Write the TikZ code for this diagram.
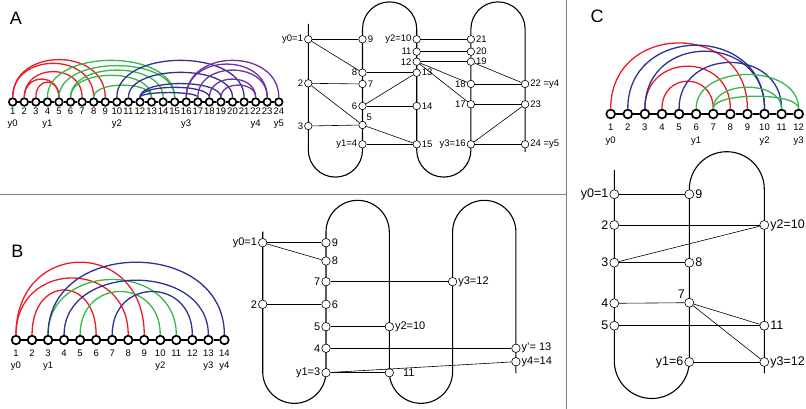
\documentclass[tikz,border=0pt]{standalone}
\usepackage{fontspec}
\setmainfont{Liberation Sans}
\usetikzlibrary{positioning}
\definecolor{arcred}{RGB}{237,28,36}
\definecolor{arcgreen}{RGB}{57,181,74}
\definecolor{arcblue}{RGB}{46,49,146}
\definecolor{arcpurple}{RGB}{112,48,160}
\definecolor{sepgray}{RGB}{128,128,128}

\begin{document}
\begin{tikzpicture}[x=1pt, y=1pt,
  bead/.style={circle, draw, fill=white, inner sep=0pt, line width=1.7pt, minimum size=#1},
  chain/.style={line width=1.8pt},
  arc/.style={line width=1.3pt},
  dot/.style={circle, draw, fill=white, inner sep=0pt, line width=0.6pt},
  serp/.style={line width=1.1pt},
  chord/.style={line width=0.6pt},
  num/.style={inner sep=0pt, font=\fontsize{9.5}{9.5}\selectfont},
  lbl/.style={inner sep=1pt},
  letter/.style={inner sep=0pt, font=\fontsize{18}{18}\selectfont},
  sep/.style={sepgray, line width=1pt}]
\useasboundingbox (0,0) rectangle (806,409);

% separators
\draw[sep] (0,214) -- (566,214);
\draw[sep] (566,0) -- (566,409);

\node[letter] (LA) at (16,391) {A};
\node[letter] (LB) at (17.5,158) {B};
\node[letter] (LC) at (597,393) {C};

% ---------- A : bead string
\foreach \i in {1,...,24} {
  \node[bead=7.6pt] (A\i) at ({12.7+(\i-1)*11.57},307) {};
  \node[num] (nA\i) at ({12.7+(\i-1)*11.57},298) {\i};
}
\foreach \i [evaluate=\i as \j using int(\i+1)] in {1,...,23}
  \draw[chain] (A\i) -- (A\j);
\foreach \u/\v/\c in {1/9/55, 1/8/50, 2/7/39, 2/5/29, 3/5/25}
  \draw[arc, arcred] (A\u) .. controls +(0,\c) and +(0,\c) .. (A\v);
\foreach \u/\v/\c in {4/15/54, 5/15/47, 6/14/41, 6/13/34, 8/13/21}
  \draw[arc, arcgreen] (A\u) .. controls +(0,\c) and +(0,\c) .. (A\v);
\foreach \u/\v/\c in {10/21/54, 11/20/38, 12/19/23, 12/18/18, 12/17/11}
  \draw[arc, arcblue] (A\u) .. controls +(0,\c) and +(0,\c) .. (A\v);
\foreach \u/\v/\c in {16/24/54, 16/23/49, 17/23/41, 18/22/29, 19/22/21}
  \draw[arc, arcpurple] (A\u) .. controls +(0,\c) and +(0,\c) .. (A\v);
\node[num, below=5pt of nA1] (yA0) {y0};
\node[num, below=5pt of nA4] (yA1) {y1};
\node[num, below=5pt of nA10] (yA2) {y2};
\node[num, below=5pt of nA16] (yA3) {y3};
\node[num, below=5pt of nA22] (yA4) {y4};
\node[num, below=5pt of nA24] (yA5) {y5};

% ---------- A : serpentine
\begin{scope}[dot/.append style={minimum size=7.5pt},
              lbl/.append style={font=\fontsize{9.5}{9.5}\selectfont}]
\draw[serp] (308.3,385) -- (308.3,259) arc[start angle=180, end angle=360, radius=27.1]
  -- (362.5,380) arc[start angle=180, end angle=0, radius=27.1]
  -- (416.7,259) arc[start angle=180, end angle=360, radius=27.1]
  -- (470.9,380) arc[start angle=180, end angle=0, radius=27.1]
  -- (525.1,257);
\node[dot, label={[lbl]left:y0=1}] (a1) at (308.3,369.7) {};
\node[dot, label={[lbl]left:2}] (a2) at (308.3,325.7) {};
\node[dot, label={[lbl]left:3}] (a3) at (308.3,283) {};
\node[dot, label={[lbl]left:y1=4}] (a4) at (362.5,264.7) {};
\node[dot, label={[lbl]above right:5}] (a5) at (362.5,284) {};
\node[dot, label={[lbl]left:6}] (a6) at (362.5,303) {};
\node[dot, label={[lbl]right:7}] (a7) at (362.5,325) {};
\node[dot, label={[lbl]left:8}] (a8) at (362.5,336.3) {};
\node[dot, label={[lbl]right:9}] (a9) at (362.5,369.7) {};
\node[dot, label={[lbl]left:y2=10}] (a10) at (416.7,369.7) {};
\node[dot, label={[lbl]left:11}] (a11) at (416.7,357.3) {};
\node[dot, label={[lbl]left:12}] (a12) at (416.7,347.3) {};
\node[dot, label={[lbl]right:13}] (a13) at (416.7,336.3) {};
\node[dot, label={[lbl]right:14}] (a14) at (416.7,303) {};
\node[dot, label={[lbl]right:15}] (a15) at (416.7,264.7) {};
\node[dot, label={[lbl]left:y3=16}] (a16) at (470.9,264.7) {};
\node[dot, label={[lbl]left:17}] (a17) at (470.9,304.7) {};
\node[dot, label={[lbl]left:18}] (a18) at (470.9,325) {};
\node[dot, label={[lbl]right:19}] (a19) at (470.9,347.3) {};
\node[dot, label={[lbl]right:20}] (a20) at (470.9,357.3) {};
\node[dot, label={[lbl]right:21}] (a21) at (470.9,369.7) {};
\node[dot, label={[lbl]right:22 =y4}] (a22) at (525.1,325) {};
\node[dot, label={[lbl]right:23}] (a23) at (525.1,304.7) {};
\node[dot, label={[lbl]right:24 =y5}] (a24) at (525.1,264.7) {};
\foreach \u/\v in {1/9, 1/8, 2/7, 2/5, 3/5, 5/15, 4/15, 8/13, 6/13, 6/14,
                   10/21, 11/20, 12/19, 12/18, 12/17, 19/22, 18/22, 17/23, 16/23, 16/24}
  \draw[chord] (a\u) -- (a\v);
\end{scope}

% ---------- B : bead string
\foreach \i in {1,...,14} {
  \node[bead=8.6pt] (B\i) at ({16+(\i-1)*16.03},69) {};
  \node[num] (nB\i) at ({16+(\i-1)*16.03},55.7) {\i};
}
\foreach \i [evaluate=\i as \j using int(\i+1)] in {1,...,13}
  \draw[chain] (B\i) -- (B\j);
\foreach \u/\v/\c in {1/9/102, 1/8/81, 2/6/65}
  \draw[arc, arcred] (B\u) .. controls +(0,\c) and +(0,\c) .. (B\v);
\foreach \u/\v/\c in {3/11/79, 5/10/63}
  \draw[arc, arcgreen] (B\u) .. controls +(0,\c) and +(0,\c) .. (B\v);
\foreach \u/\v/\c in {3/14/102, 4/13/78, 7/12/63}
  \draw[arc, arcblue] (B\u) .. controls +(0,\c) and +(0,\c) .. (B\v);
\node[num, below=5pt of nB1] (yB0) {y0};
\node[num, below=5pt of nB3] (yB1) {y1};
\node[num, below=5pt of nB10] (yB2) {y2};
\node[num, below=5pt of nB13] (yB3) {y3};
\node[num, below=5pt of nB14] (yB4) {y4};

% ---------- B : serpentine
\begin{scope}[dot/.append style={minimum size=8.5pt},
              lbl/.append style={font=\fontsize{11}{11}\selectfont}]
\draw[serp] (262.7,177.3) -- (262.7,37.3) arc[start angle=180, end angle=360, radius=31.65]
  -- (326,177) arc[start angle=180, end angle=0, radius=31.65]
  -- (389.3,37.3) arc[start angle=180, end angle=360, radius=31.65]
  -- (452.6,177) arc[start angle=180, end angle=0, radius=31.65]
  -- (515.9,35.7);
\node[dot, label={[lbl]left:y0=1}] (b1) at (262.7,166.3) {};
\node[dot, label={[lbl]left:2}] (b2) at (262.7,104.7) {};
\node[dot, label={[lbl]left:y1=3}] (b3) at (326,36.3) {};
\node[dot, label={[lbl]left:4}] (b4) at (326,60.7) {};
\node[dot, label={[lbl]left:5}] (b5) at (326,82.3) {};
\node[dot, label={[lbl]right:6}] (b6) at (326,104.7) {};
\node[dot, label={[lbl]left:7}] (b7) at (326,127.3) {};
\node[dot, label={[lbl]right:8}] (b8) at (326,148) {};
\node[dot, label={[lbl]right:9}] (b9) at (326,166.3) {};
\node[dot, label={[lbl]right:y2=10}] (b10) at (389.3,82.3) {};
\node[dot, label={[lbl,label distance=8pt]right:11}] (b11) at (389.3,36.3) {};
\node[dot, label={[lbl]right:y3=12}] (b12) at (452.6,127.3) {};
\node[dot, label={[lbl]right:y'= 13}] (b13) at (515.9,60.7) {};
\node[dot, label={[lbl]right:y4=14}] (b14) at (515.9,47.3) {};
\foreach \u/\v in {1/9, 1/8, 7/12, 2/6, 5/10, 4/13, 3/14, 3/11}
  \draw[chord] (b\u) -- (b\v);
\end{scope}

% ---------- C : bead string
\foreach \i in {1,...,12} {
  \node[bead=8.8pt] (C\i) at ({610.7+(\i-1)*17.09},295) {};
  \node[num] (nC\i) at ({610.7+(\i-1)*17.09},281.7) {\i};
}
\foreach \i [evaluate=\i as \j using int(\i+1)] in {1,...,11}
  \draw[chain] (C\i) -- (C\j);
\foreach \u/\v/\c in {1/9/93, 3/8/62, 4/7/42}
  \draw[arc, arcred] (C\u) .. controls +(0,\c) and +(0,\c) .. (C\v);
\foreach \u/\v/\c in {2/10/90, 3/10/82, 5/11/67}
  \draw[arc, arcblue] (C\u) .. controls +(0,\c) and +(0,\c) .. (C\v);
\foreach \u/\v/\c in {6/12/51, 7/11/34, 7/12/22}
  \draw[arc, arcgreen] (C\u) .. controls +(0,\c) and +(0,\c) .. (C\v);
\node[num, below=6pt of nC1] (yC0) {y0};
\node[num, below=6pt of nC6] (yC1) {y1};
\node[num, below=6pt of nC10] (yC2) {y2};
\node[num, below=6pt of nC12] (yC3) {y3};

% ---------- C : serpentine
\begin{scope}[dot/.append style={minimum size=9pt},
              lbl/.append style={font=\fontsize{12.5}{12.5}\selectfont}]
\draw[serp] (614.3,239) -- (614.3,48) arc[start angle=180, end angle=360, radius=37.5]
  -- (689.3,219.8) arc[start angle=180, end angle=0, radius=37.5]
  -- (764.3,35.7);
\node[dot, label={[lbl]left:y0=1}] (c1) at (614.3,214.7) {};
\node[dot, label={[lbl]left:2}] (c2) at (614.3,184) {};
\node[dot, label={[lbl]left:3}] (c3) at (614.3,146.3) {};
\node[dot, label={[lbl]left:4}] (c4) at (614.3,105.7) {};
\node[dot, label={[lbl]left:5}] (c5) at (614.3,83.3) {};
\node[dot, label={[lbl]left:y1=6}] (c6) at (689.3,47) {};
\node[dot, label={[lbl]above left:7}] (c7) at (689.3,106.3) {};
\node[dot, label={[lbl]right:8}] (c8) at (689.3,146.3) {};
\node[dot, label={[lbl]right:9}] (c9) at (689.3,214.7) {};
\node[dot, label={[lbl]right:y2=10}] (c10) at (764.3,184) {};
\node[dot, label={[lbl]right:11}] (c11) at (764.3,83.3) {};
\node[dot, label={[lbl]right:y3=12}] (c12) at (764.3,47) {};
\foreach \u/\v in {1/9, 2/10, 3/10, 3/8, 4/7, 5/11, 7/11, 7/12, 6/12}
  \draw[chord] (c\u) -- (c\v);
\end{scope}

\end{tikzpicture}
\end{document}
